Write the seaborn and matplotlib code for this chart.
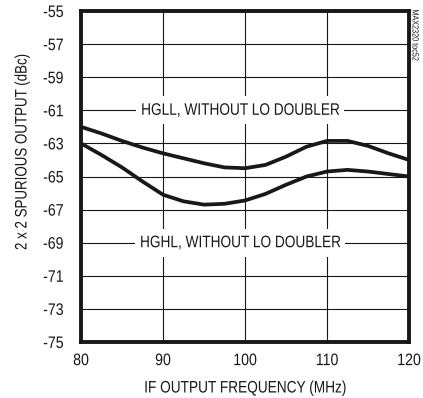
import matplotlib
matplotlib.use("Agg")
import matplotlib.pyplot as plt
import seaborn as sns
import pandas as pd
import numpy as np
from matplotlib.path import Path
from matplotlib.transforms import Affine2D
from matplotlib.patheffects import AbstractPathEffect

# IF output frequency (MHz)
freq = [80, 82.5, 85, 87.5, 90, 92.5, 95, 97.5, 100, 102.5, 105, 107.5, 110, 112.5, 115, 117.5, 120]
# 2 x 2 spurious output (dBc)
hgll = [-62.0, -62.4, -62.85, -63.25, -63.6, -63.9, -64.2, -64.45, -64.5, -64.3, -63.8, -63.2,
        -62.85, -62.85, -63.15, -63.6, -64.0]
hghl = [-63.0, -63.7, -64.45, -65.3, -66.1, -66.5, -66.7, -66.65, -66.45, -66.05, -65.5, -65.0,
        -64.7, -64.6, -64.7, -64.85, -65.0]

x_ticks = [80, 90, 100, 110, 120]
y_ticks = list(range(-75, -54, 2))

INK = '#1a1718'


class Condense(AbstractPathEffect):
    """squeeze text along its reading direction (narrow font look)"""

    def __init__(self, scale=0.83, anchor='center', vertical=False):
        super().__init__()
        self.scale = scale
        self.anchor = anchor
        self.vertical = vertical

    def draw_path(self, renderer, gc, tpath, affine, rgbFace=None):
        verts = affine.transform(tpath.vertices)
        if tpath.codes is not None:
            verts = verts[tpath.codes != Path.CLOSEPOLY]
        k = 1 if self.vertical else 0
        lo, hi = verts[:, k].min(), verts[:, k].max()
        c = {'center': (lo + hi) / 2, 'right': hi, 'left': lo}[self.anchor]
        if self.vertical:
            squeeze = Affine2D().translate(0, -c).scale(1, self.scale).translate(0, c)
        else:
            squeeze = Affine2D().translate(-c, 0).scale(self.scale, 1).translate(c, 0)
        renderer.draw_path(gc, tpath, affine + squeeze, rgbFace)


sns.set_style("white")
plt.rcParams['font.family'] = ['Liberation Sans', 'DejaVu Sans']

df = pd.concat([
    pd.DataFrame({'freq': freq, 'spur': hgll, 'mode': 'HGLL'}),
    pd.DataFrame({'freq': freq, 'spur': hghl, 'mode': 'HGHL'}),
])

fig = plt.figure(figsize=(4.23, 3.98), dpi=100)
ax = fig.add_axes([81 / 423, 56 / 398, 328 / 423, 331 / 398])

sns.lineplot(data=df, x='freq', y='spur', units='mode', estimator=None,
             color=INK, linewidth=2.7, ax=ax, legend=False)

ax.set_xlim(80, 120)
ax.set_ylim(-75, -55)
ax.set_xticks(x_ticks)
ax.set_xticklabels([str(v) for v in x_ticks])
ax.set_yticks(y_ticks)
ax.set_yticklabels([str(v) for v in y_ticks])
ax.grid(True, color=INK, linewidth=0.8)
ax.set_axisbelow(True)
ax.tick_params(axis='both', length=0, labelsize=12, colors=INK)
ax.tick_params(axis='y', pad=12.5)
ax.tick_params(axis='x', pad=8)
for s in ax.spines.values():
    s.set_linewidth(2.8)
    s.set_color(INK)

for lbl in ax.get_yticklabels():
    lbl.set_path_effects([Condense(0.85, 'right')])
for lbl in ax.get_xticklabels():
    lbl.set_path_effects([Condense(0.85, 'center')])

ax.set_xlabel('IF OUTPUT FREQUENCY (MHz)', fontsize=12, color=INK, va='center',
              path_effects=[Condense(0.82)])
ax.xaxis.set_label_coords(0.5, (342 - 388) / 331)
ax.set_ylabel('2 x 2 SPURIOUS OUTPUT (dBc)', fontsize=12, color=INK, va='center',
              path_effects=[Condense(0.8, vertical=True)])
ax.yaxis.set_label_coords((22 - 81) / 328, (342 - 152) / 331)

for label, yv in [('HGLL, WITHOUT LO DOUBLER', -61), ('HGHL, WITHOUT LO DOUBLER', -69)]:
    t = ax.text(99.4, yv, label, ha='center', va='center', fontsize=12, color=INK,
                path_effects=[Condense(0.82)],
                bbox=dict(facecolor='white', edgecolor='none', pad=4.5))
    t.get_bbox_patch().set_path_effects([Condense(0.82)])

fig.text(415 / 423, 1 - 35 / 398, 'MAX2320 toc52', rotation=270, ha='center', va='center',
         fontsize=6.5, color=INK, path_effects=[Condense(0.8, vertical=True)])

fig.savefig('out.png', dpi=100)
